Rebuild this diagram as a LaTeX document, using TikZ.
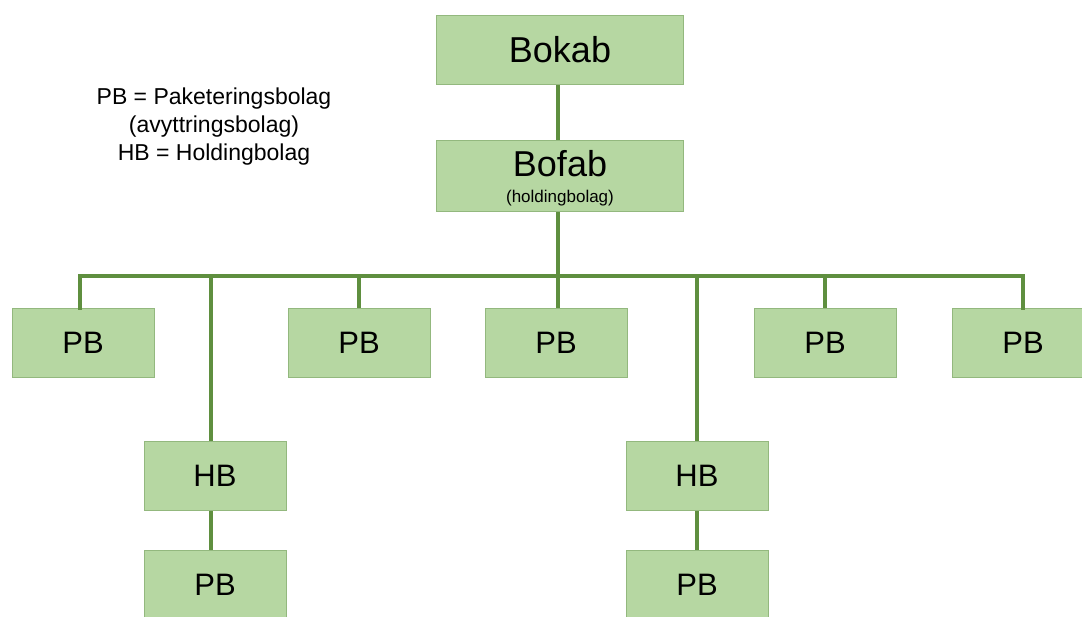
\documentclass[tikz,border=0pt]{standalone}
\usepackage{fontspec}
\setmainfont{Liberation Sans}
\definecolor{boxfill}{HTML}{B6D7A2}
\definecolor{boxline}{HTML}{93B87E}
\definecolor{link}{HTML}{5F8F3F}
\begin{document}
\begin{tikzpicture}[x=1pt,y=-1pt,
  unit/.style={rectangle, fill=boxfill, draw=boxline, line width=1pt,
    minimum width=142pt, minimum height=69pt, inner sep=0pt, font=\fontsize{31}{34}\selectfont},
  topunit/.style={unit, minimum width=247pt, font=\fontsize{36}{40}\selectfont},
  tie/.style={draw=link, line width=3.5pt}]
\useasboundingbox (0,0) rectangle (1082,616);
\fill[white] (0,0) rectangle (1082,616);

% legend
\node[align=center, font=\fontsize{23}{28}\selectfont] (legend) at (214,127)
  {PB = Paketeringsbolag\\(avyttringsbolag)\\HB = Holdingbolag};

% top of the group
\node[topunit] (bokab) at (560,50) {Bokab};
\node[topunit, minimum height=71pt] (bofab) at (560,176) {};
\node[font=\fontsize{36}{40}\selectfont] (bofabname) at (560,164) {Bofab};
\node[font=\fontsize{17}{19}\selectfont] (bofabnote) at (560,198) {(holdingbolag)};

% subsidiaries
\node[unit] (pb1) at (83,343) {PB};
\node[unit] (hb1) at (215,476) {HB};
\node[unit] (pb1b) at (215,585) {PB};
\node[unit] (pb2) at (359,343) {PB};
\node[unit] (pb3) at (556,343) {PB};
\node[unit] (hb2) at (697,476) {HB};
\node[unit] (pb2b) at (697,585) {PB};
\node[unit] (pb4) at (825,343) {PB};
\node[unit] (pb5) at (1023,343) {PB};

% connectors
\coordinate (bus) at (558,276);
\coordinate (busleft) at (80,276);
\coordinate (busright) at (1023,276);
\draw[tie] (bokab.south -| bus) -- (bofab.north -| bus);
\draw[tie] (bofab.south -| bus) -- (bus);
\draw[tie, line cap=rect] (pb1.north -| busleft) |- (busright) -- (pb5.north);
\draw[tie] (bus -| 211,0) -- (hb1.north -| 211,0);
\draw[tie] (bus -| pb2) -- (pb2.north);
\draw[tie] (bus) -- (pb3.north -| bus);
\draw[tie] (bus -| hb2) -- (hb2.north);
\draw[tie] (bus -| pb4) -- (pb4.north);
\draw[tie] (hb1.south -| 211,0) -- (pb1b.north -| 211,0);
\draw[tie] (hb2.south) -- (pb2b.north);
\end{tikzpicture}
\end{document}
